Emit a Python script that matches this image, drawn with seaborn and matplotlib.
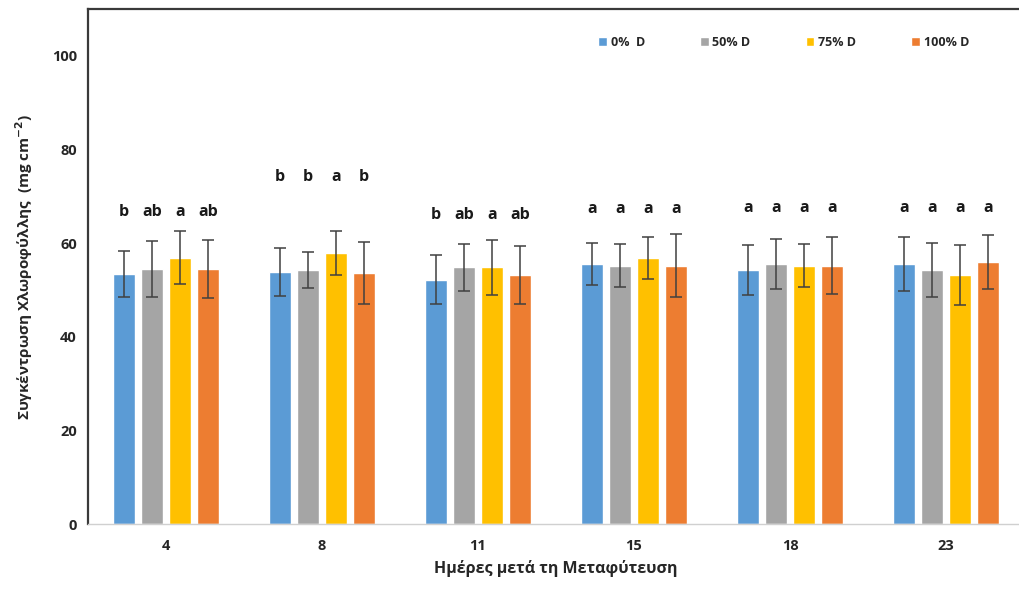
import numpy as np
import pandas as pd
import matplotlib
matplotlib.use("Agg")
import matplotlib.pyplot as plt
import seaborn as sns

# ---- data ----
days = ["4", "8", "11", "15", "18", "23"]
treatments = ["0%  D", "50% D", "75% D", "100% D"]
mean_0 = [53.4, 53.9, 52.2, 55.6, 54.3, 55.6]
mean_50 = [54.5, 54.3, 54.8, 55.2, 55.6, 54.3]
mean_75 = [56.9, 57.8, 54.8, 56.9, 55.2, 53.1]
mean_100 = [54.5, 53.6, 53.1, 55.2, 55.2, 56.0]
sd_0 = [5.0, 5.1, 5.3, 4.5, 5.3, 5.8]
sd_50 = [6.0, 3.8, 5.1, 4.5, 5.3, 5.8]
sd_75 = [5.7, 4.7, 5.8, 4.5, 4.5, 6.4]
sd_100 = [6.2, 6.7, 6.2, 6.8, 6.0, 5.8]
letters_0 = ["b", "b", "b", "a", "a", "a"]
letters_50 = ["ab", "b", "ab", "a", "a", "a"]
letters_75 = ["a", "a", "a", "a", "a", "a"]
letters_100 = ["ab", "b", "ab", "a", "a", "a"]
letter_height = [66.6, 74.1, 66.0, 67.2, 67.5, 67.5]
y_ticks = [0, 20, 40, 60, 80, 100]

colors = ["#5B9BD5", "#A5A5A5", "#FFC000", "#ED7D31"]

means = [mean_0, mean_50, mean_75, mean_100]
sds = [sd_0, sd_50, sd_75, sd_100]
letters = [letters_0, letters_50, letters_75, letters_100]

rows = []
for t, m, s, l in zip(treatments, means, sds, letters):
    for d, mv, sv, lv in zip(days, m, s, l):
        rows.append({"day": d, "treatment": t, "mean": mv, "sd": sv, "letter": lv})
df = pd.DataFrame(rows)

sns.set_theme(style="white")
plt.rcParams["font.family"] = ["Open Sans", "DejaVu Sans"]

fig = plt.figure(figsize=(10.2, 5.92), dpi=100)
ax = fig.add_axes([88 / 1020, 68 / 592, 936 / 1020, (524 - 9) / 592])

sns.barplot(data=df, x="day", y="mean", hue="treatment", order=days,
            hue_order=treatments, palette=colors, errorbar=None,
            width=0.72, gap=0.2, saturation=1, ax=ax, legend=True)

bar_containers = [c for c in ax.containers if hasattr(c, "patches")]

# error bars and letters from bar positions
for ti, cont in enumerate(bar_containers):
    for di, bar in enumerate(cont.patches):
        xc = bar.get_x() + bar.get_width() / 2
        h = bar.get_height()
        ax.errorbar(xc, h, yerr=sds[ti][di], fmt="none", ecolor="#404040",
                    elinewidth=1.1, capsize=4, capthick=1.1, zorder=3)
        ax.text(xc, letter_height[di], letters[ti][di], ha="center", va="center",
                fontsize=11.5, fontweight="bold", color="#1a1a1a")

ax.set_xlim(-0.5, len(days) - 0.5)
ax.set_ylim(0, 110)
ax.set_yticks(y_ticks)
ax.set_yticklabels([str(v) for v in y_ticks], fontsize=10.5, fontweight="bold", color="#262626")
ax.set_xticks(range(len(days)))
ax.set_xticklabels(days, fontsize=10.5, fontweight="bold", color="#262626")
ax.tick_params(axis="y", length=0, pad=8)
ax.tick_params(axis="x", length=0, pad=11)

ax.set_ylabel("Συγκέντρωση Χλωροφύλλης  (mg cm$^{\\mathbf{-2}}$)", fontsize=11,
              fontweight="bold", color="#262626", labelpad=12)
ax.set_xlabel("Ημέρες μετά τη Μεταφύτευση", fontsize=11.5, fontweight="bold",
              color="#262626", labelpad=5)

for side in ["left", "top"]:
    ax.spines[side].set_visible(True)
    ax.spines[side].set_color("#3a3a3a")
    ax.spines[side].set_linewidth(1.6)
ax.spines["right"].set_visible(False)
ax.spines["bottom"].set_color("#d0d0d0")
ax.spines["bottom"].set_linewidth(1.0)

leg = ax.legend(loc="upper left", bbox_to_anchor=(0.533, 0.97), ncol=4, frameon=False,
                handlelength=0.7, handleheight=0.7, handletextpad=0.3,
                columnspacing=4.4, prop={"size": 9, "weight": "bold"})
for t in leg.get_texts():
    t.set_color("#262626")

fig.savefig("out.png", dpi=100)
